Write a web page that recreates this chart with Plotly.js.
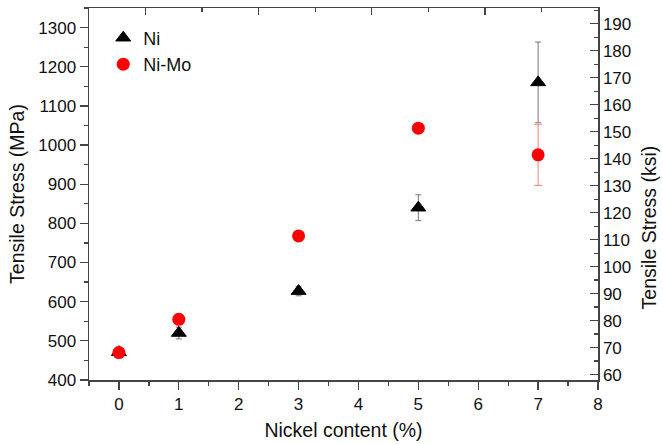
<!DOCTYPE html>
<html>
<head>
<meta charset="utf-8">
<script src="https://cdn.plot.ly/plotly-3.0.1.min.js"></script>
<style>
  html, body { margin: 0; padding: 0; background: #fff; }
  #chart { width: 663px; height: 444px; }
</style>
</head>
<body>
<div id="chart"></div>
<script>
// Nickel content (%) of each alloy
const nickelContent = [0, 1, 3, 5, 7];

// Tensile stress (MPa) and error bars for the plain Ni series
const niStress = [471, 520, 627, 840, 1160];
const niError = [12, 15, 12, 33, 103];

// Tensile stress (MPa) and error bars for the Ni-Mo series
const niMoStress = [470, 555, 768, 1043, 975];
const niMoError = [0, 0, 0, 0, 78];

// Series names shown in the legend
const seriesNames = ['Ni', 'Ni-Mo'];

// MPa -> ksi conversion used by the right-hand axis
const MPA_TO_KSI = 0.145038;
const mpaRange = [400, 1350];

const font = { family: 'Liberation Sans, Arial, sans-serif', color: '#111' };
const axisColor = '#444';

const traces = [
  {
    x: nickelContent,
    y: niStress,
    name: seriesNames[0],
    type: 'scatter',
    mode: 'markers',
    marker: { symbol: 'triangle-up', size: 13, color: '#000', line: { color: '#000', width: 1 } },
    error_y: { type: 'data', array: niError, visible: true, color: '#777', thickness: 1, width: 3 }
  },
  {
    x: nickelContent,
    y: niMoStress,
    name: seriesNames[1],
    type: 'scatter',
    mode: 'markers',
    marker: { symbol: 'circle', size: 13, color: '#ff0000' },
    error_y: { type: 'data', array: niMoError, visible: true, color: '#ff7b7b', thickness: 1, width: 4 }
  },
  // empty trace that binds the top (x2) and right-hand ksi (y2) axes
  {
    x: [], y: [],
    xaxis: 'x2', yaxis: 'y2',
    type: 'scatter', mode: 'markers',
    showlegend: false, hoverinfo: 'skip'
  }
];

const layout = {
  width: 663,
  height: 444,
  margin: { l: 89, r: 65, t: 8, b: 64 },
  paper_bgcolor: '#fff',
  plot_bgcolor: '#fff',
  font: Object.assign({ size: 16 }, font),
  showlegend: true,
  legend: {
    x: 0.028, y: 0.969, xanchor: 'left', yanchor: 'top',
    bgcolor: 'rgba(0,0,0,0)',
    font: Object.assign({ size: 18 }, font),
    itemwidth: 30,
    tracegroupgap: 0
  },
  xaxis: {
    range: [-0.5, 8], autorange: false,
    tick0: 0, dtick: 1,
    ticks: 'outside', ticklen: 8, tickwidth: 1.3, tickcolor: axisColor,
    minor: { dtick: 0.5, ticks: 'outside', ticklen: 4, tickwidth: 1.3, tickcolor: axisColor },
    showline: true, linecolor: axisColor, linewidth: 1.5,
    showgrid: false, zeroline: false,
    tickfont: Object.assign({ size: 17 }, font),
    title: { text: 'Nickel content (%)', font: Object.assign({ size: 19.5 }, font), standoff: 10 }
  },
  xaxis2: {
    overlaying: 'x', side: 'top', anchor: 'y2',
    range: [0, 9], autorange: false,
    tickvals: [1, 3, 5, 7],
    ticks: 'inside', ticklen: 7, tickwidth: 1.3, tickcolor: axisColor,
    minor: { tickvals: [2, 4, 6, 8], ticks: 'inside', ticklen: 4, tickwidth: 1.3, tickcolor: axisColor },
    showticklabels: false,
    showline: true, linecolor: axisColor, linewidth: 1.5,
    showgrid: false, zeroline: false
  },
  yaxis: {
    range: mpaRange, autorange: false,
    tick0: 0, dtick: 100,
    ticks: 'outside', ticklen: 8, tickwidth: 1.3, tickcolor: axisColor,
    minor: { dtick: 50, ticks: 'outside', ticklen: 4, tickwidth: 1.3, tickcolor: axisColor },
    showline: true, linecolor: axisColor, linewidth: 1.5,
    showgrid: false, zeroline: false,
    tickfont: Object.assign({ size: 17 }, font),
    title: { text: 'Tensile Stress (MPa)', font: Object.assign({ size: 19.5 }, font), standoff: 8 }
  },
  yaxis2: {
    overlaying: 'y', side: 'right', anchor: 'x2',
    range: [mpaRange[0] * MPA_TO_KSI, mpaRange[1] * MPA_TO_KSI], autorange: false,
    tick0: 0, dtick: 10,
    ticks: 'inside', ticklen: 8, tickwidth: 1.3, tickcolor: axisColor,
    minor: { dtick: 5, ticks: 'inside', ticklen: 4, tickwidth: 1.3, tickcolor: axisColor },
    showline: true, linecolor: axisColor, linewidth: 1.5,
    showgrid: false, zeroline: false,
    tickfont: Object.assign({ size: 17 }, font)
  },
  annotations: [
    {
      text: 'Tensile Stress (ksi)',
      xref: 'paper', yref: 'paper',
      x: 1.102, y: 0.41,
      xanchor: 'center', yanchor: 'middle',
      textangle: -90,
      showarrow: false,
      font: Object.assign({ size: 19.5 }, font)
    }
  ]
};

Plotly.newPlot('chart', traces, layout, { displayModeBar: false, staticPlot: true });
</script>
</body>
</html>
